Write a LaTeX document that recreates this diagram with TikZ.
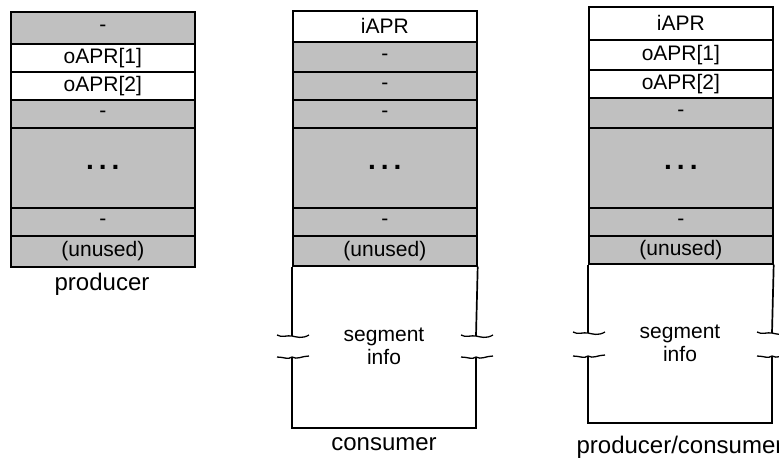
\documentclass[tikz,border=0pt]{standalone}
\usepackage{fontspec}
\setmainfont{Liberation Sans}
\definecolor{cellgray}{HTML}{C0C0C0}
\newcommand\cellfont{\fontsize{21}{23}\selectfont}
\newcommand\labelfont{\fontsize{24}{27}\selectfont}
\newcommand\dotfont{\fontsize{28}{30}\selectfont\bfseries}
\tikzset{
  cell/.style={draw=black, line width=1.7pt, anchor=north west, minimum width=184pt, inner sep=0pt, font=\cellfont},
  grayc/.style={fill=cellgray},
  whitec/.style={fill=white},
  dotc/.style={font=\dotfont},
  edge/.style={draw=black, line width=1.7pt},
  brk/.style={draw=black, line width=1.3pt},
  lbl/.style={anchor=base, font=\labelfont, inner sep=0pt}
}
\newcommand\dotsrow{.\hspace{5pt}.\hspace{5pt}.}
\begin{document}
\begin{tikzpicture}[x=1pt,y=-1pt]
\useasboundingbox (0,0) rectangle (779,459);
% producer
\node[cell,grayc,minimum height=32] (l1) at (10,11) {-};
\node[cell,whitec,minimum height=28] (l2) at (10,43) {oAPR[1]};
\node[cell,whitec,minimum height=28] (l3) at (10,71) {oAPR[2]};
\node[cell,grayc,minimum height=28] (l4) at (10,99) {-};
\node[cell,grayc,dotc,minimum height=80] (l5) at (10,127) {\dotsrow};
\node[cell,grayc,minimum height=28] (l6) at (10,207) {-};
\node[cell,grayc,minimum height=31] (l7) at (10,235) {(unused)};
\node[lbl] (lp) at (102,290) {producer};
% consumer
\node[cell,whitec,minimum height=31] (m1) at (292,10) {iAPR};
\node[cell,grayc,minimum height=30] (m2) at (292,41) {-};
\node[cell,grayc,minimum height=28] (m3) at (292,71) {-};
\node[cell,grayc,minimum height=28] (m4) at (292,99) {-};
\node[cell,grayc,dotc,minimum height=80] (m5) at (292,127) {\dotsrow};
\node[cell,grayc,minimum height=28] (m6) at (292,207) {-};
\node[cell,grayc,minimum height=30] (m7) at (292,235) {(unused)};
\coordinate (mlu) at (292,336);
\coordinate (mll) at (292,357);
\coordinate (mru) at (476,336);
\coordinate (mrl) at (476,357);
\coordinate (mbl) at (292,428);
\coordinate (mbr) at (476,428);
\draw[edge] (m7.south west) -- (mlu);
\draw[edge] (m7.south east) -- (mru);
\draw[edge] (mll) -- (mbl) -- (mbr) -- (mrl);
\node[font=\cellfont, align=center, inner sep=0pt] (ms) at (384,346) {segment\\info};
\node[lbl] (lc) at (384,450) {consumer};
% producer/consumer
\node[cell,whitec,minimum height=33] (r1) at (588,6) {iAPR};
\node[cell,whitec,minimum height=30] (r2) at (588,39) {oAPR[1]};
\node[cell,whitec,minimum height=28] (r3) at (588,69) {oAPR[2]};
\node[cell,grayc,minimum height=30] (r4) at (588,97) {-};
\node[cell,grayc,dotc,minimum height=80] (r5) at (588,127) {\dotsrow};
\node[cell,grayc,minimum height=28] (r6) at (588,207) {-};
\node[cell,grayc,minimum height=28] (r7) at (588,235) {(unused)};
\coordinate (rlu) at (588,333);
\coordinate (rll) at (588,356);
\coordinate (rru) at (772,333);
\coordinate (rrl) at (772,356);
\coordinate (rbl) at (588,423);
\coordinate (rbr) at (772,423);
\draw[edge] (r7.south west) -- (rlu);
\draw[edge] (r7.south east) -- (rru);
\draw[edge] (rll) -- (rbl) -- (rbr) -- (rrl);
\node[font=\cellfont, align=center, inner sep=0pt] (rs) at (680,343) {segment\\info};
\node[lbl] (lpc) at (680,453) {producer/consumer};
% break marks
\foreach \c in {mlu,mru,rlu,rru}{
  \draw[brk] ([xshift=-15pt,yshift=1pt]\c) .. controls ([xshift=-10pt,yshift=-2pt]\c) and ([xshift=-5pt,yshift=1pt]\c) .. (\c)
     .. controls ([xshift=5pt,yshift=-1pt]\c) and ([xshift=10pt,yshift=-3pt]\c) .. ([xshift=17pt,yshift=1pt]\c);
}
\foreach \c in {mll,mrl,rll,rrl}{
  \draw[brk] ([xshift=-15pt,yshift=0pt]\c) .. controls ([xshift=-8pt,yshift=0pt]\c) and ([xshift=-4pt,yshift=-3pt]\c) .. (\c)
     .. controls ([xshift=5pt,yshift=-3pt]\c) and ([xshift=10pt,yshift=1pt]\c) .. ([xshift=17pt,yshift=1pt]\c);
}
\end{tikzpicture}
\end{document}
